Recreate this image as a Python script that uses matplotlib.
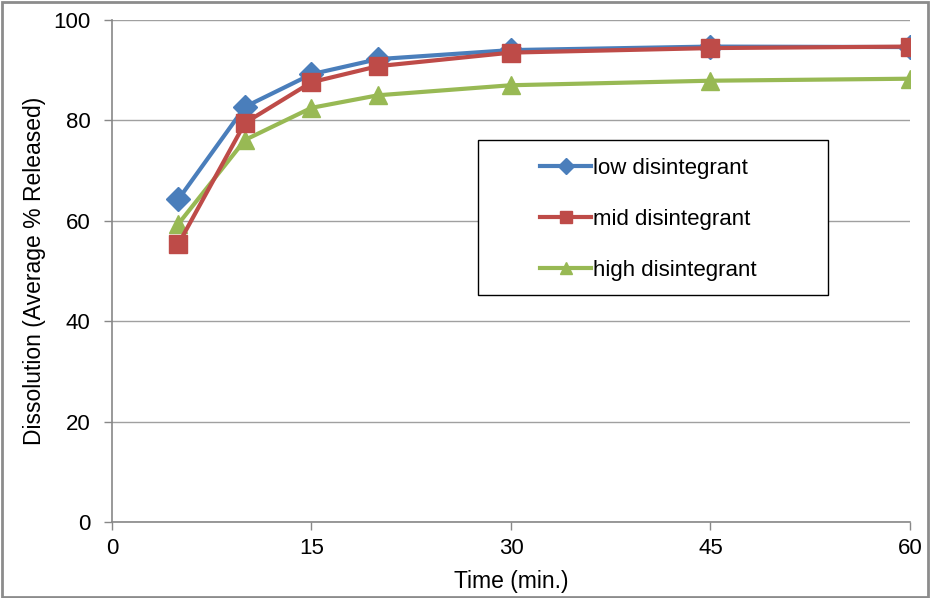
import matplotlib.pyplot as plt
from matplotlib.patches import Rectangle

# Dissolution profile data
time_min = [5, 10, 15, 20, 30, 45, 60]
low_dis = [64.3, 82.7, 89.2, 92.2, 94.0, 94.7, 94.6]
mid_dis = [55.4, 79.5, 87.6, 90.8, 93.5, 94.4, 94.7]
high_dis = [59.4, 76.1, 82.5, 85.0, 87.0, 87.9, 88.3]

series_names = ['low disintegrant', 'mid disintegrant', 'high disintegrant']
x_ticks = [0, 15, 30, 45, 60]
y_ticks = [0, 20, 40, 60, 80, 100]

plt.rcParams['font.family'] = ['Liberation Sans', 'DejaVu Sans']

fig = plt.figure(figsize=(9.3, 5.98), dpi=100)
ax = fig.add_axes([0.1204, 0.1271, 0.8581, 0.8395])

ax.plot(time_min, low_dis, color='#4A7EBB', lw=3, marker='D', ms=12,
        label=series_names[0], zorder=3)
ax.plot(time_min, mid_dis, color='#BE4B48', lw=3, marker='s', ms=13,
        label=series_names[1], zorder=4)
ax.plot(time_min, high_dis, color='#98B954', lw=3, marker='^', ms=13,
        label=series_names[2], zorder=3)

ax.set_xlim(0, 60)
ax.set_ylim(0, 100)
ax.set_xticks(x_ticks)
ax.set_yticks(y_ticks)
ax.tick_params(labelsize=16, color='#888888', length=5.5, width=1)
ax.tick_params(axis='x', pad=6)
ax.tick_params(axis='y', pad=10)
ax.yaxis.grid(True, color='#A0A0A0', lw=1)
ax.set_axisbelow(True)
for s in ['top', 'right']:
    ax.spines[s].set_visible(False)
for s in ['left', 'bottom']:
    ax.spines[s].set_color('#888888')
    ax.spines[s].set_linewidth(1.2)

ax.set_xlabel('Time (min.)', fontsize=16.5, labelpad=8)
ax.set_ylabel('Dissolution (Average % Released)', fontsize=16.5, labelpad=5)

# legend box drawn separately so the entries can sit where the original has them
ax.add_patch(Rectangle((0.4586, 0.4522), 0.4386, 0.3088, transform=ax.transAxes,
                       facecolor='white', edgecolor='black', lw=1, zorder=5))
leg = ax.legend(loc='center left', bbox_to_anchor=(0.5363, 0.6035),
                fontsize=16, frameon=False, handlelength=2.3, handletextpad=0.1,
                labelspacing=1.35, borderpad=0, borderaxespad=0, markerscale=0.7)
leg.set_zorder(6)

# gray outer border like the original chart area
fig.patches.append(Rectangle((0.002, 0.002), 0.996, 0.994, transform=fig.transFigure,
                             fill=False, edgecolor='#8C8C8C', lw=2))

fig.savefig('out.png', dpi=100)
